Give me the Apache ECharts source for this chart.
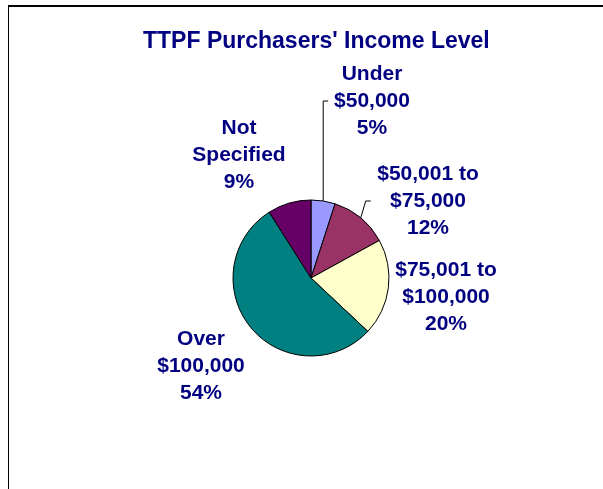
<!DOCTYPE html>
<html style="height: 100%">
  <head>
    <meta charset="utf-8" />
  </head>
  <body style="height: 100%; margin: 0; background: #fff">
    <div id="container" style="width: 603px; height: 489px"></div>
    <script
      type="text/javascript"
      src="https://cdn.jsdelivr.net/npm/echarts@6/dist/echarts.min.js"
    ></script>

    <script type="text/javascript">
      var dom = document.getElementById("container");
      var myChart = echarts.init(dom, null, { renderer: "canvas" });

      // income groups, clockwise from 12 o'clock
      let categories = [
        "Under\n$50,000",
        "$50,001 to\n$75,000",
        "$75,001 to\n$100,000",
        "Over\n$100,000",
        "Not\nSpecified",
      ];
      let values = [5, 12, 20, 54, 9];
      let colors = ["#9999FF", "#993366", "#FFFFCC", "#008080", "#660066"];
      // which labels get a leader line, and how far its bend leans right
      let showLine = [true, true, false, false, false];
      let lineLean = [0, 5, 0, 0, 0];
      // label centres in px
      let labelPos = [
        [372, 101],
        [428, 201],
        [446, 297],
        [201, 366],
        [239, 155],
      ];

      let center = [311, 278];
      let radius = 78;
      let total = values.reduce(function (a, b) {
        return a + b;
      }, 0);

      // anchor on the rim at the middle of each slice
      function rimPoint(i) {
        let before = 0;
        for (let k = 0; k < i; k++) before += values[k];
        let a = ((before + values[i] / 2) / total) * Math.PI * 2;
        return [center[0] + radius * Math.sin(a), center[1] - radius * Math.cos(a)];
      }

      let pieData = categories.map(function (name, i) {
        return {
          name: name,
          value: values[i],
          itemStyle: { color: colors[i] },
          labelLine: { show: showLine[i] },
        };
      });

      let option = {
        backgroundColor: "#fff",
        animation: false,
        title: {
          text: "TTPF Purchasers' Income Level",
          left: 138,
          top: 25,
          textStyle: {
            color: "#000080",
            fontFamily: "Liberation Sans",
            fontWeight: "bold",
            fontSize: 23,
          },
        },
        graphic: [
          {
            type: "line",
            shape: { x1: 8, y1: 6, x2: 603, y2: 6 },
            style: { stroke: "#000", lineWidth: 2 },
          },
          {
            type: "line",
            shape: { x1: 8.5, y1: 6, x2: 8.5, y2: 489 },
            style: { stroke: "#000", lineWidth: 1 },
          },
        ],
        series: [
          {
            type: "pie",
            center: center,
            radius: radius,
            startAngle: 90,
            clockwise: true,
            itemStyle: { borderColor: "#000", borderWidth: 1 },
            label: {
              formatter: "{b}\n{c}%",
              color: "#000080",
              fontFamily: "Liberation Sans",
              fontWeight: "bold",
              fontSize: 21,
              lineHeight: 27,
              align: "center",
            },
            labelLine: {
              lineStyle: { color: "#000", width: 1 },
            },
            labelLayout: function (params) {
              let i = params.dataIndex;
              let p = labelPos[i];
              let out = {
                x: p[0],
                y: p[1],
                align: "center",
                verticalAlign: "middle",
              };
              if (showLine[i]) {
                let r = rimPoint(i);
                let bx = r[0] + lineLean[i];
                out.labelLinePoints = [r, [bx, p[1]], [bx + 5, p[1]]];
              }
              return out;
            },
            emphasis: { disabled: true },
            data: pieData,
          },
        ],
      };

      myChart.setOption(option);
    </script>
  </body>
</html>
